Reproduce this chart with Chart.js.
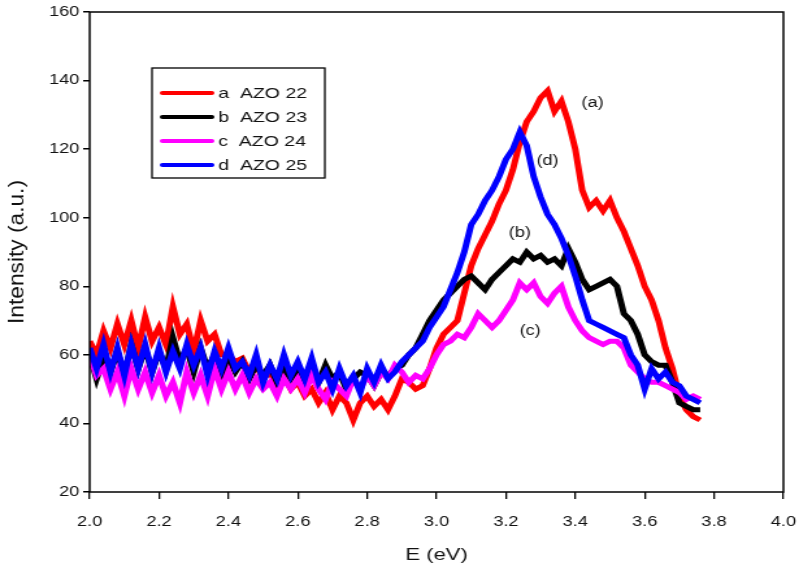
<!DOCTYPE html>
<html>
<head>
<meta charset="utf-8">
<script src="https://cdn.jsdelivr.net/npm/chart.js@4.4.0/dist/chart.umd.min.js"></script>
<style>
  html, body { margin: 0; padding: 0; background: #fff; overflow: hidden; }
  #wrap { width: 799px; height: 578px; position: relative; overflow: hidden; }
  /* the source figure is stretched sideways, so draw narrow and widen */
  #spectrum { position: absolute; left: 0; top: 0; transform-origin: 0 0; transform: scaleX(1.2992); }
</style>
</head>
<body>
<div id="wrap"><canvas id="spectrum" width="615" height="578"></canvas></div>
<script>
// photon energy (eV)
const energy = [
  2.00, 2.02, 2.04, 2.06, 2.08, 2.10, 2.12, 2.14, 2.16, 2.18,
  2.20, 2.22, 2.24, 2.26, 2.28, 2.30, 2.32, 2.34, 2.36, 2.38,
  2.40, 2.42, 2.44, 2.46, 2.48, 2.50, 2.52, 2.54, 2.56, 2.58,
  2.60, 2.62, 2.64, 2.66, 2.68, 2.70, 2.72, 2.74, 2.76, 2.78,
  2.80, 2.82, 2.84, 2.86, 2.88, 2.90, 2.92, 2.94, 2.96, 2.98,
  3.00, 3.02, 3.04, 3.06, 3.08, 3.10, 3.12, 3.14, 3.16, 3.18,
  3.20, 3.22, 3.24, 3.26, 3.28, 3.30, 3.32, 3.34, 3.36, 3.38,
  3.40, 3.42, 3.44, 3.46, 3.48, 3.50, 3.52, 3.54, 3.56, 3.58,
  3.60, 3.62, 3.64, 3.66, 3.68, 3.70, 3.72, 3.74, 3.76
];

const azo22 = [
  64, 60, 67, 62, 69, 63, 70, 62, 71, 64,
  68, 63, 74, 66, 69, 61, 70, 64, 66, 60,
  60, 58, 59, 55, 57, 53, 55, 51, 54, 50,
  52, 48, 50, 46, 49, 44, 48, 46, 41, 46,
  48, 45, 47, 44, 48, 53, 52, 50, 51, 56,
  62, 66, 68, 70, 78, 86, 91, 95, 99, 104,
  108, 114, 122, 128, 131, 135, 137, 131, 134, 128,
  120, 108, 103, 105, 102, 105, 100, 96, 91, 86,
  80, 76, 70, 62, 56, 48, 44, 42, 41
];

const azo23 = [
  60, 53, 59, 55, 61, 54, 63, 56, 62, 55,
  61, 56, 65, 58, 62, 55, 62, 56, 60, 54,
  59, 55, 58, 53, 57, 54, 57, 52, 56, 53,
  56, 51, 55, 52, 57, 53, 55, 50, 53, 55,
  54, 51, 55, 54, 56, 57, 60, 62, 66, 70,
  73, 76, 78, 80, 82, 83, 81, 79, 82, 84,
  86, 88, 87, 90, 88, 89, 87, 88, 86, 91,
  87, 82, 79, 80, 81, 82, 80, 72, 70, 66,
  60, 58, 57, 57, 52, 46, 45, 44, 44
];

const azo24 = [
  60, 54, 56, 50, 55, 48, 56, 50, 55, 49,
  54, 48, 52, 46, 55, 49, 54, 48, 56, 50,
  55, 50, 54, 49, 53, 50, 52, 48, 53, 50,
  53, 49, 54, 50, 47, 52, 50, 48, 53, 50,
  54, 51, 55, 53, 57, 55, 52, 54, 53, 56,
  60, 63, 64, 66, 65, 68, 72, 70, 68, 70,
  73, 76, 81, 79, 81, 77, 75, 78, 80, 74,
  70, 67, 65, 64, 63, 64, 64, 62, 57, 55,
  53, 52, 52, 51, 50, 49, 47, 48, 47
];

const azo25 = [
  62, 56, 63, 55, 62, 54, 63, 56, 63, 55,
  62, 55, 61, 56, 63, 57, 62, 54, 61, 56,
  62, 56, 58, 54, 60, 52, 57, 53, 60, 54,
  58, 53, 59, 52, 55, 50, 56, 51, 54, 49,
  56, 52, 57, 53, 55, 58, 60, 62, 64, 68,
  71, 74, 79, 84, 90, 98, 101, 105, 108, 112,
  117, 120, 125, 121, 112, 106, 101, 98, 94, 89,
  83, 76, 70, 69, 68, 67, 66, 65, 60, 57,
  50, 56, 53, 55, 52, 51, 48, 47, 46
];

const seriesLabels = ['a  AZO 22', 'b  AZO 23', 'c  AZO 24', 'd  AZO 25'];
const seriesColors = ['#ff0000', '#000000', '#ff00ff', '#0000ff'];
const xTicks = [2.0, 4.0, 0.2];   // min, max, step
const yTicks = [20, 160, 20];
const yTitle = 'Intensity (a.u.)';

// curve tags written next to each spectrum
const curveTags = [
  { text: '(a)', e: 3.45, v: 133.5 },
  { text: '(d)', e: 3.32, v: 116.5 },
  { text: '(b)', e: 3.24, v: 95.5 },
  { text: '(c)', e: 3.27, v: 67 }
];

const family = '"Liberation Sans", Arial, sans-serif';

function series(values) {
  return values.map((v, i) => ({ x: energy[i], y: v }));
}

// frame, y title, inset legend box and curve tags
const frameAndLegend = {
  id: 'frameAndLegend',
  afterDraw(chart) {
    const { ctx, chartArea: a, scales } = chart;
    ctx.save();
    ctx.strokeStyle = '#000';
    ctx.lineWidth = 1.5;
    ctx.strokeRect(a.left, a.top, a.right - a.left, a.bottom - a.top);

    // y title, tall and narrow like the source
    ctx.save();
    ctx.translate(14, (a.top + a.bottom) / 2);
    ctx.rotate(-Math.PI / 2);
    ctx.scale(1.42, 1);
    ctx.fillStyle = '#111';
    ctx.font = '16px ' + family;
    ctx.textAlign = 'center';
    ctx.textBaseline = 'middle';
    ctx.fillText(yTitle, 0, 0);
    ctx.restore();

    ctx.lineWidth = 1.3;
    ctx.strokeRect(117, 68, 133, 110);
    ctx.font = '15px ' + family;
    ctx.textBaseline = 'middle';
    chart.data.datasets.forEach((ds, i) => {
      const y = 93 + i * 24;
      ctx.strokeStyle = ds.borderColor;
      ctx.lineWidth = 4;
      ctx.lineCap = 'round';
      ctx.beginPath();
      ctx.moveTo(125, y);
      ctx.lineTo(163, y);
      ctx.stroke();
      ctx.fillStyle = '#111';
      ctx.fillText(ds.label, 168, y + 1);
    });

    ctx.font = '14px ' + family;
    ctx.textAlign = 'center';
    curveTags.forEach(t => {
      ctx.fillText(t.text, scales.x.getPixelForValue(t.e), scales.y.getPixelForValue(t.v));
    });
    ctx.restore();
  }
};

const datasets = [azo22, azo23, azo24, azo25].map((vals, i) => ({
  label: seriesLabels[i],
  data: series(vals),
  borderColor: seriesColors[i],
  backgroundColor: seriesColors[i],
  borderWidth: 5,
  order: 3 - i   // d on top, a underneath
}));

new Chart(document.getElementById('spectrum'), {
  type: 'line',
  data: { datasets: datasets },
  options: {
    responsive: false,
    animation: false,
    devicePixelRatio: 1,
    layout: { padding: { top: 12, right: 12, left: 0, bottom: 0 } },
    plugins: { legend: { display: false }, tooltip: { enabled: false } },
    elements: {
      point: { radius: 0 },
      line: { tension: 0, borderJoinStyle: 'miter', borderCapStyle: 'butt' }
    },
    scales: {
      x: {
        type: 'linear',
        min: xTicks[0],
        max: xTicks[1],
        afterFit: s => {
          s.height = 86;
          s.paddingLeft = 0;
          s.paddingRight = 12;
        },
        ticks: {
          stepSize: xTicks[2],
          padding: 15,
          color: '#111',
          maxRotation: 0,
          autoSkip: false,
          font: { size: 14, family: family },
          callback: v => v.toFixed(1)
        },
        grid: { drawOnChartArea: false, drawTicks: true, tickLength: 7, color: '#000', lineWidth: 1.3 },
        border: { display: false },
        title: {
          display: true,
          text: 'E (eV)',
          color: '#111',
          font: { size: 17, family: family },
          padding: { top: 0, bottom: 12 }
        }
      },
      y: {
        min: yTicks[0],
        max: yTicks[1],
        afterFit: s => { s.width = 69; },
        ticks: {
          stepSize: yTicks[2],
          padding: 3,
          color: '#111',
          font: { size: 14, family: family }
        },
        grid: { drawOnChartArea: false, drawTicks: true, tickLength: 5, color: '#000', lineWidth: 1.5 },
        border: { display: false }
      }
    }
  },
  plugins: [frameAndLegend]
});
</script>
</body>
</html>
